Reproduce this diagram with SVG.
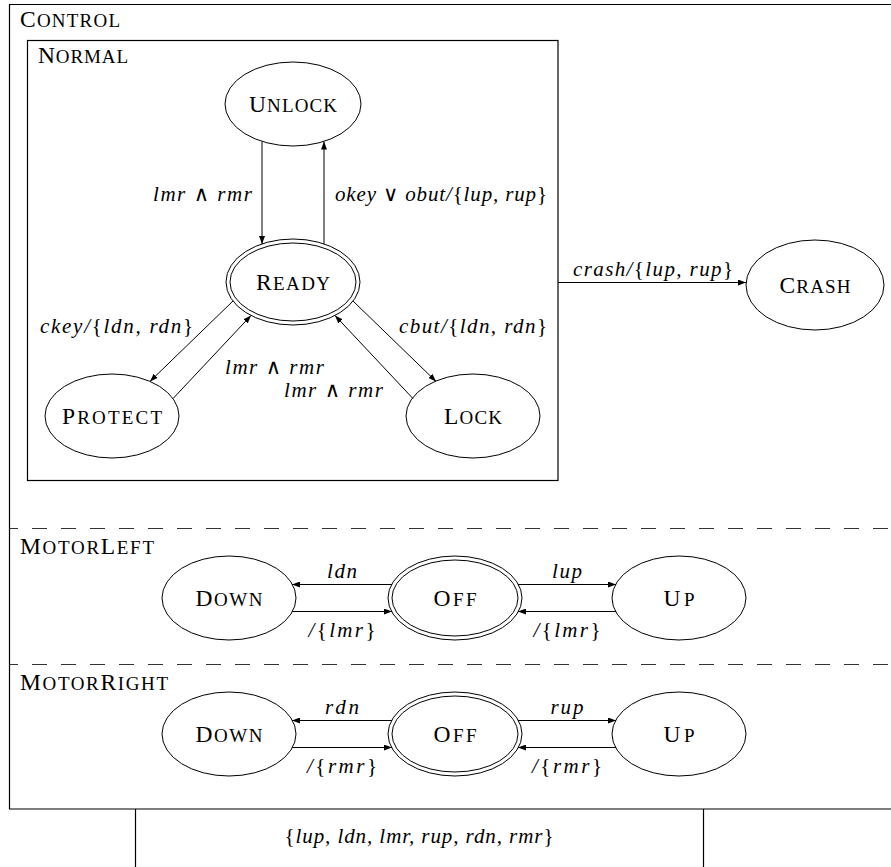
<svg xmlns="http://www.w3.org/2000/svg" width="891" height="867" viewBox="0 0 891 867">
<defs>
<marker id="ah" markerUnits="userSpaceOnUse" markerWidth="8" markerHeight="6" refX="8" refY="3" orient="auto">
<path d="M0,0 L8,3 L0,6 z" fill="#000"/>
</marker>
<style>
.box{fill:none;stroke:#000;stroke-width:1.2}
.dash{fill:none;stroke:#333;stroke-width:1.2;stroke-dasharray:15 14;stroke-dashoffset:6.5}
.st{fill:#fff;stroke:#000;stroke-width:1}
.ed{fill:none;stroke:#000;stroke-width:1;marker-end:url(#ah)}
.sc{font-family:"Liberation Serif","DejaVu Serif",serif;font-size:23.5px;font-variant:small-caps;fill:#000}
.k{font-size:26.5px}
.c{text-anchor:middle}
.m{font-family:"Liberation Serif","DejaVu Serif",serif;font-size:21px;font-style:italic;fill:#000}
.u{font-style:normal}
</style>
</defs>
<rect width="891" height="867" fill="#fff"/>
<g id="control">
<path class="box" d="M891,4.5 H9.5 V809 H891"/>
<text class="sc" x="20" y="27" textLength="100" lengthAdjust="spacing">C<tspan class="k">ontrol</tspan></text>
</g>
<g id="normal">
<rect class="box" x="27.5" y="40.5" width="530.5" height="440"/>
<text class="sc" x="38" y="63" textLength="90" lengthAdjust="spacing">N<tspan class="k">ormal</tspan></text>
</g>
<g id="regions">
<line class="dash" x1="9.5" y1="528.5" x2="891" y2="528.5"/>
<line class="dash" x1="9.5" y1="664.5" x2="891" y2="664.5"/>
<text class="sc" x="20" y="554" textLength="134" lengthAdjust="spacing">M<tspan class="k">otor</tspan>L<tspan class="k">eft</tspan></text>
<text class="sc" x="20" y="690" textLength="148" lengthAdjust="spacing">M<tspan class="k">otor</tspan>R<tspan class="k">ight</tspan></text>
</g>
<g id="bottom">
<line class="box" x1="135.5" y1="809" x2="135.5" y2="867"/>
<line class="box" x1="703.5" y1="809" x2="703.5" y2="867"/>
<text class="m c" x="419" y="843" textLength="269" lengthAdjust="spacing"><tspan class="u">{</tspan>lup, ldn, lmr, rup, rdn, rmr<tspan class="u">}</tspan></text>
</g>
<g id="unlock">
<ellipse class="st" cx="293" cy="104" rx="68" ry="42"/>
<text class="sc c" x="293" y="112" textLength="88" lengthAdjust="spacing">U<tspan class="k">nlock</tspan></text>
</g>
<g id="ready">
<ellipse class="st" cx="293" cy="282" rx="67" ry="43"/>
<ellipse class="st" cx="293" cy="282" rx="63" ry="39"/>
<text class="sc c" x="293" y="290" textLength="74" lengthAdjust="spacing">R<tspan class="k">eady</tspan></text>
</g>
<g id="protect">
<ellipse class="st" cx="112" cy="416" rx="67" ry="42"/>
<text class="sc c" x="112" y="424" textLength="100" lengthAdjust="spacing">P<tspan class="k">rotect</tspan></text>
</g>
<g id="lock">
<ellipse class="st" cx="473" cy="416" rx="67" ry="42"/>
<text class="sc c" x="473" y="424" textLength="58" lengthAdjust="spacing">L<tspan class="k">ock</tspan></text>
</g>
<g id="crash">
<ellipse class="st" cx="815" cy="285" rx="69" ry="45"/>
<text class="sc c" x="815" y="293" textLength="71" lengthAdjust="spacing">C<tspan class="k">rash</tspan></text>
</g>
<g id="left-down">
<ellipse class="st" cx="229" cy="598" rx="67" ry="42"/>
<text class="sc c" x="229" y="606" textLength="67" lengthAdjust="spacing">D<tspan class="k">own</tspan></text>
</g>
<g id="left-off">
<ellipse class="st" cx="455" cy="598" rx="67" ry="42"/>
<ellipse class="st" cx="455" cy="598" rx="63" ry="38"/>
<text class="sc c" x="455" y="606" textLength="43" lengthAdjust="spacing">O<tspan class="k">ff</tspan></text>
</g>
<g id="left-up">
<ellipse class="st" cx="679" cy="598" rx="67" ry="42"/>
<text class="sc c" x="679" y="606" textLength="31" lengthAdjust="spacing">U<tspan class="k">p</tspan></text>
</g>
<g id="right-down">
<ellipse class="st" cx="229" cy="734" rx="67" ry="42"/>
<text class="sc c" x="229" y="742" textLength="67" lengthAdjust="spacing">D<tspan class="k">own</tspan></text>
</g>
<g id="right-off">
<ellipse class="st" cx="455" cy="734" rx="67" ry="42"/>
<ellipse class="st" cx="455" cy="734" rx="63" ry="38"/>
<text class="sc c" x="455" y="742" textLength="43" lengthAdjust="spacing">O<tspan class="k">ff</tspan></text>
</g>
<g id="right-up">
<ellipse class="st" cx="679" cy="734" rx="67" ry="42"/>
<text class="sc c" x="679" y="742" textLength="31" lengthAdjust="spacing">U<tspan class="k">p</tspan></text>
</g>
<g id="connectors">
<line class="ed" x1="262" y1="141.5" x2="262" y2="244"/>
<line class="ed" x1="324" y1="244" x2="324" y2="141.5"/>
<line class="ed" x1="233" y1="301" x2="150" y2="381.4"/>
<line class="ed" x1="173" y1="398.6" x2="251" y2="315.5"/>
<line class="ed" x1="353" y1="301" x2="436" y2="381.4"/>
<line class="ed" x1="413" y1="398.6" x2="335" y2="315.5"/>
<line class="ed" x1="558" y1="282.5" x2="746" y2="282.5"/>
<line class="ed" x1="392" y1="584.5" x2="292" y2="584.5"/>
<line class="ed" x1="292" y1="611.5" x2="392" y2="611.5"/>
<line class="ed" x1="518" y1="584.5" x2="616" y2="584.5"/>
<line class="ed" x1="616" y1="611.5" x2="518" y2="611.5"/>
<line class="ed" x1="392" y1="720.5" x2="292" y2="720.5"/>
<line class="ed" x1="292" y1="747.5" x2="392" y2="747.5"/>
<line class="ed" x1="518" y1="720.5" x2="616" y2="720.5"/>
<line class="ed" x1="616" y1="747.5" x2="518" y2="747.5"/>
<text class="m" x="252" y="201" text-anchor="end" textLength="99" lengthAdjust="spacing">lmr <tspan class="u">∧</tspan> rmr</text>
<text class="m" x="335" y="201" textLength="212" lengthAdjust="spacing">okey <tspan class="u">∨</tspan> obut/<tspan class="u">{</tspan>lup, rup<tspan class="u">}</tspan></text>
<text class="m" x="40" y="333" textLength="153" lengthAdjust="spacing">ckey/<tspan class="u">{</tspan>ldn, rdn<tspan class="u">}</tspan></text>
<text class="m" x="547" y="333" text-anchor="end" textLength="148" lengthAdjust="spacing">cbut/<tspan class="u">{</tspan>ldn, rdn<tspan class="u">}</tspan></text>
<text class="m" x="225" y="374" textLength="99" lengthAdjust="spacing">lmr <tspan class="u">∧</tspan> rmr</text>
<text class="m" x="383" y="397" text-anchor="end" textLength="99" lengthAdjust="spacing">lmr <tspan class="u">∧</tspan> rmr</text>
<text class="m" x="573" y="276" textLength="160" lengthAdjust="spacing">crash/<tspan class="u">{</tspan>lup, rup<tspan class="u">}</tspan></text>
<text class="m c" x="342" y="578" textLength="30" lengthAdjust="spacing">ldn</text>
<text class="m c" x="342" y="637" textLength="67" lengthAdjust="spacing">/<tspan class="u">{</tspan>lmr<tspan class="u">}</tspan></text>
<text class="m c" x="567" y="578" textLength="30" lengthAdjust="spacing">lup</text>
<text class="m c" x="567" y="637" textLength="67" lengthAdjust="spacing">/<tspan class="u">{</tspan>lmr<tspan class="u">}</tspan></text>
<text class="m c" x="342" y="714" textLength="34" lengthAdjust="spacing">rdn</text>
<text class="m c" x="342" y="773" textLength="70" lengthAdjust="spacing">/<tspan class="u">{</tspan>rmr<tspan class="u">}</tspan></text>
<text class="m c" x="567" y="714" textLength="33" lengthAdjust="spacing">rup</text>
<text class="m c" x="567" y="773" textLength="70" lengthAdjust="spacing">/<tspan class="u">{</tspan>rmr<tspan class="u">}</tspan></text>
</g>
</svg>
